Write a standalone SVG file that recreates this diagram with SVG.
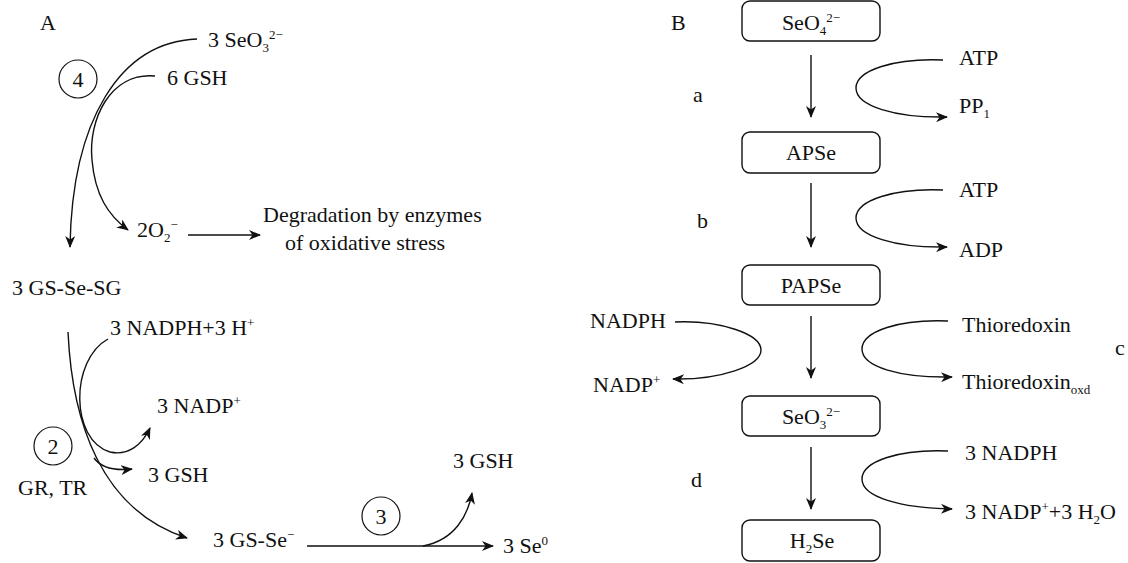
<svg xmlns="http://www.w3.org/2000/svg" width="1128" height="563" viewBox="0 0 1128 563" font-family="'Liberation Serif', 'DejaVu Serif', serif">
<style>
text{font-family:"Liberation Serif","DejaVu Serif",serif;font-size:22px;fill:#111}
.s{font-size:13px}
.ln{fill:none;stroke:#111;stroke-width:1.4}
.box{fill:#fff;stroke:#111;stroke-width:1.4}
.circ{fill:none;stroke:#111;stroke-width:1.2}
</style>
<defs>
<marker id="ah" viewBox="0 0 12 10" refX="11" refY="5" markerWidth="12" markerHeight="10" markerUnits="userSpaceOnUse" orient="auto">
<path d="M0,0 L12,5 L0,10 L3.5,5 z" fill="#111"/>
</marker>
</defs>
<rect width="1128" height="563" fill="#fff"/>

<g id="panelA">
<text x="40" y="30">A</text>
<g id="a-seo3"><text x="208" y="47">3 SeO<tspan class="s" baseline-shift="-5">3</tspan><tspan class="s" baseline-shift="8">2−</tspan></text></g>
<g id="a-gsh6"><text x="167" y="85">6 GSH</text></g>
<g id="a-c4"><circle class="circ" cx="78" cy="79" r="19"/><text x="78" y="87" text-anchor="middle">4</text></g>
<g id="a-o2"><text x="137" y="237">2O<tspan class="s" baseline-shift="-5">2</tspan><tspan class="s" baseline-shift="8">−</tspan></text></g>
<g id="a-deg"><text x="263" y="222">Degradation by enzymes</text><text x="285" y="250">of oxidative stress</text></g>
<g id="a-gssg"><text x="12" y="295">3 GS-Se-SG</text></g>
<g id="a-nadph"><text x="110" y="335">3 NADPH+3 H<tspan class="s" baseline-shift="8">+</tspan></text></g>
<g id="a-nadp"><text x="157" y="413">3 NADP<tspan class="s" baseline-shift="8">+</tspan></text></g>
<g id="a-c2"><circle class="circ" cx="53" cy="446" r="19"/><text x="53" y="454" text-anchor="middle">2</text></g>
<g id="a-grtr"><text x="18" y="495">GR, TR</text></g>
<g id="a-gsh3a"><text x="148" y="482">3 GSH</text></g>
<g id="a-gsse"><text x="213" y="547">3 GS-Se<tspan class="s" baseline-shift="8">−</tspan></text></g>
<g id="a-c3"><circle class="circ" cx="381" cy="516" r="19"/><text x="381" y="524" text-anchor="middle">3</text></g>
<g id="a-gsh3b"><text x="453" y="468">3 GSH</text></g>
<g id="a-se0"><text x="503" y="553">3 Se<tspan class="s" baseline-shift="8">0</tspan></text></g>
</g>

<g id="panelB">
<text x="671" y="30">B</text>
<g id="b-seo4"><rect class="box" x="742" y="1" width="138" height="40" rx="8"/><text x="811" y="30" text-anchor="middle">SeO<tspan class="s" baseline-shift="-5">4</tspan><tspan class="s" baseline-shift="8">2−</tspan></text></g>
<g id="b-apse"><rect class="box" x="742" y="132" width="138" height="41" rx="8"/><text x="811" y="160" text-anchor="middle">APSe</text></g>
<g id="b-papse"><rect class="box" x="742" y="265" width="138" height="40" rx="8"/><text x="811" y="293" text-anchor="middle">PAPSe</text></g>
<g id="b-seo3"><rect class="box" x="742" y="396" width="138" height="40" rx="8"/><text x="811" y="424" text-anchor="middle">SeO<tspan class="s" baseline-shift="-5">3</tspan><tspan class="s" baseline-shift="8">2−</tspan></text></g>
<g id="b-h2se"><rect class="box" x="742" y="520" width="138" height="41" rx="8"/><text x="812" y="548" text-anchor="middle">H<tspan class="s" baseline-shift="-5">2</tspan>Se</text></g>
<text x="693" y="102">a</text>
<text x="697" y="228">b</text>
<text x="1115" y="355">c</text>
<text x="691" y="487">d</text>
<g id="b-atp1"><text x="959" y="65">ATP</text></g>
<g id="b-pp1"><text x="959" y="113">PP<tspan class="s" baseline-shift="-5">1</tspan></text></g>
<g id="b-atp2"><text x="959" y="197">ATP</text></g>
<g id="b-adp"><text x="959" y="257">ADP</text></g>
<g id="b-nadph"><text x="590" y="328">NADPH</text></g>
<g id="b-nadp"><text x="593" y="392">NADP<tspan class="s" baseline-shift="8">+</tspan></text></g>
<g id="b-thio"><text x="962" y="332">Thioredoxin</text></g>
<g id="b-thiox"><text x="962" y="389">Thioredoxin<tspan class="s" baseline-shift="-5">oxd</tspan></text></g>
<g id="b-nadph3"><text x="965" y="460">3 NADPH</text></g>
<g id="b-nadp3"><text x="965" y="519">3 NADP<tspan class="s" baseline-shift="8">+</tspan>+3 H<tspan class="s" baseline-shift="-5">2</tspan>O</text></g>
</g>

<g id="connectors">
<path class="ln" d="M197,39 C120,42 72,120 70,247" marker-end="url(#ah)"/>
<path class="ln" d="M155,76 C110,72 88,120 92,160 C95,195 108,215 128,230" marker-end="url(#ah)"/>
<path class="ln" d="M188,235 L260,235" marker-end="url(#ah)"/>
<path class="ln" d="M68,332 C72,420 100,510 187,538" marker-end="url(#ah)"/>
<path class="ln" d="M108,339 C70,360 70,440 110,452 C128,456 142,445 150,428" marker-end="url(#ah)"/>
<path class="ln" d="M94,458 Q104,472 132,469" marker-end="url(#ah)"/>
<path class="ln" d="M307,546 L493,546" marker-end="url(#ah)"/>
<path class="ln" d="M423,546 C455,540 468,515 472,493" marker-end="url(#ah)"/>
<path class="ln" d="M811,55 L811,117" marker-end="url(#ah)"/>
<path class="ln" d="M811,183 L811,247" marker-end="url(#ah)"/>
<path class="ln" d="M811,316 L811,378" marker-end="url(#ah)"/>
<path class="ln" d="M811,447 L811,509" marker-end="url(#ah)"/>
<path class="ln" d="M943,60 C895,58 856,70 856,88 C856,106 895,118 947,117" marker-end="url(#ah)"/>
<path class="ln" d="M943,190 C895,188 856,200 856,218 C856,236 895,248 947,247" marker-end="url(#ah)"/>
<path class="ln" d="M948,321 C900,319 862,331 862,349 C862,367 900,378 952,377" marker-end="url(#ah)"/>
<path class="ln" d="M948,451 C900,449 862,461 862,479 C862,497 900,508 952,509" marker-end="url(#ah)"/>
<path class="ln" d="M675,322 C720,320 761,334 761,350 C761,366 720,380 673,379" marker-end="url(#ah)"/>
</g>
</svg>
